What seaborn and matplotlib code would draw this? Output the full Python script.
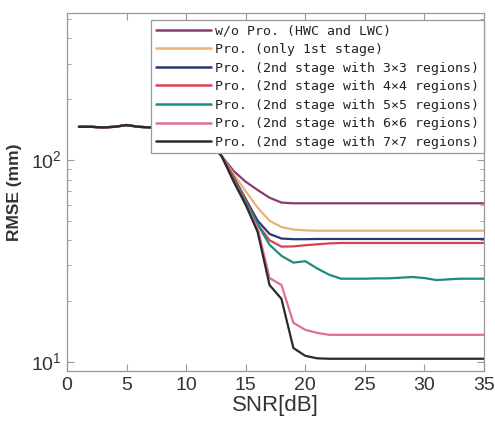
import numpy as np
import pandas as pd
import matplotlib
matplotlib.use("Agg")
import matplotlib.pyplot as plt
import seaborn as sns
from matplotlib import font_manager

snr = list(range(1, 36))

start = [146, 146, 145, 146, 149, 146, 145, 145, 145, 144, 140, 125, 104]

wo_pro = start + [88, 78, 71, 65, 61.5, 61, 61, 61, 61, 61, 61, 61, 61, 61, 61, 61, 61, 61, 61, 61, 61, 61, 61]
first_stage = start + [85, 70, 58, 50, 46.5, 45.2, 44.8, 44.6, 44.6, 44.6, 44.6, 44.6, 44.6, 44.6, 44.6, 44.6, 44.6, 44.6, 44.6, 44.6, 44.6, 44.6, 44.6]
r3x3 = start + [82, 64, 50, 43, 40.8, 40.5, 40.5, 40.6, 40.6, 40.6, 40.6, 40.6, 40.6, 40.6, 40.6, 40.6, 40.6, 40.6, 40.6, 40.6, 40.6, 40.6, 40.6]
r4x4 = start + [82, 63, 48, 40, 37.2, 37.3, 37.8, 38.2, 38.6, 38.8, 38.8, 38.8, 38.8, 38.8, 38.8, 38.8, 38.8, 38.8, 38.8, 38.8, 38.8, 38.8, 38.8]
r5x5 = start + [80, 62, 48, 38, 33.5, 31, 31.5, 29, 27, 25.8, 25.8, 25.8, 25.9, 25.9, 26.1, 26.3, 26.0, 25.4, 25.6, 25.8, 25.8, 25.8, 25.8]
r6x6 = start + [78, 60, 46, 26, 24, 15.6, 14.4, 13.9, 13.6, 13.6, 13.6, 13.6, 13.6, 13.6, 13.6, 13.6, 13.6, 13.6, 13.6, 13.6, 13.6, 13.6, 13.6]
r7x7 = start + [78, 60, 44, 24, 20.5, 11.7, 10.7, 10.4, 10.35, 10.35, 10.35, 10.35, 10.35, 10.35, 10.35, 10.35, 10.35, 10.35, 10.35, 10.35, 10.35, 10.35, 10.35]

labels = [
    "w/o Pro. (HWC and LWC)",
    "Pro. (only 1st stage)",
    "Pro. (2nd stage with 3×3 regions)",
    "Pro. (2nd stage with 4×4 regions)",
    "Pro. (2nd stage with 5×5 regions)",
    "Pro. (2nd stage with 6×6 regions)",
    "Pro. (2nd stage with 7×7 regions)",
]
series = [wo_pro, first_stage, r3x3, r4x4, r5x5, r6x6, r7x7]
colors = ["#8a3a72", "#e8b27a", "#2a3670", "#d8424e", "#1f8a80", "#e0708e", "#2a2a2a"]

rows = []
for lab, vals in zip(labels, series):
    for x, v in zip(snr, vals):
        rows.append({"SNR": x, "RMSE": v, "method": lab})
df = pd.DataFrame(rows)

sns.set_style("ticks")
avail = {f.name for f in font_manager.fontManager.ttflist}
narrow = "Liberation Sans Narrow" if "Liberation Sans Narrow" in avail else "Liberation Sans"
plt.rcParams["font.family"] = [narrow, "DejaVu Sans"]
plt.rcParams["mathtext.fontset"] = "custom"
plt.rcParams["mathtext.rm"] = narrow

fig = plt.figure(figsize=(4.95, 4.21), dpi=100)
ax = fig.add_axes([67 / 495, 50 / 421, 417 / 495, 358 / 421])

sns.lineplot(data=df, x="SNR", y="RMSE", hue="method", hue_order=labels,
             palette=colors, linewidth=1.6, ax=ax, legend=False)

ax.set_yscale("log")
ax.set_xlim(0, 35)
ax.set_ylim(9, 535)
ax.set_xticks([0, 5, 10, 15, 20, 25, 30, 35])
ax.set_xticklabels(["0", "5", "10", "15", "20", "25", "30", "35"], fontsize=14, color="#333333")
ax.set_yticks([10, 100])
ax.set_yticklabels(["$10^1$", "$10^2$"], fontsize=14, color="#333333")
ax.tick_params(which="both", direction="in", top=True, right=True, color="#999999")
ax.tick_params(which="major", length=5, pad=4)
ax.tick_params(which="minor", length=3)
for s in ax.spines.values():
    s.set_color("#999999")
    s.set_linewidth(0.9)

ax.set_xlabel("SNR[dB]", fontsize=16, color="#333333", labelpad=1)
ax.set_ylabel("RMSE (mm)", fontsize=12.5, color="#333333", fontweight="bold", labelpad=6)
ax.yaxis.set_label_coords(-0.108, 0.5)

handles = [plt.Line2D([], [], color=c, linewidth=1.8) for c in colors]
leg = ax.legend(handles, labels, loc="upper right", bbox_to_anchor=(0.999, 0.981),
                borderaxespad=0, frameon=True, fancybox=False, framealpha=1,
                edgecolor="#999999", handlelength=4.2, handletextpad=0.3,
                labelspacing=0.42, borderpad=0.35,
                prop={"family": ["DejaVu Sans Mono"], "size": 9.5})
leg.get_frame().set_linewidth(0.9)
for t in leg.get_texts():
    t.set_color("#222222")

fig.savefig("out.png", dpi=100)
